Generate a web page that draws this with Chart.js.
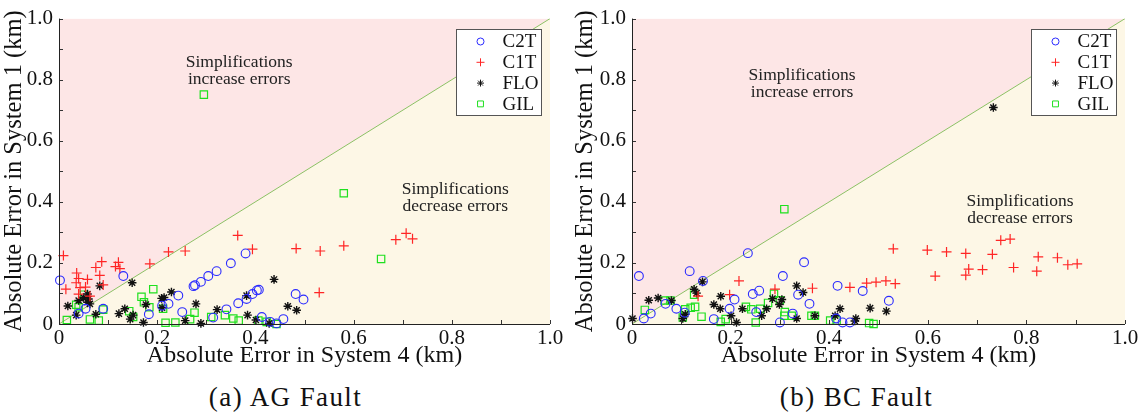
<!DOCTYPE html>
<html>
<head>
<meta charset="utf-8">
<script src="https://cdn.jsdelivr.net/npm/chart.js@4.4.1/dist/chart.umd.min.js"></script>
<style>
  body { margin: 0; background: #fff; width: 1142px; height: 419px; overflow: hidden; }
  .row { display: flex; }
  .panel { position: relative; width: 571px; height: 419px; }
  .panel canvas { position: absolute; left: 0; top: 0; }
  .caption {
    position: absolute; left: 0; top: 382px; width: 100%;
    text-align: center; font: 27px "Liberation Serif", serif; letter-spacing: 1.4px; color: #111;
  }
</style>
</head>
<body>
<div class="row">
  <div class="panel">
    <canvas id="agChart" width="571" height="370"></canvas>
    <div class="caption">(a) AG Fault</div>
  </div>
  <div class="panel">
    <canvas id="bcChart" width="571" height="370"></canvas>
    <div class="caption">(b) BC Fault</div>
  </div>
</div>
<script>
// Series names and axis labels
const seriesNames = ['C2T', 'C1T', 'FLO', 'GIL'];
const tickValues = [0, 0.2, 0.4, 0.6, 0.8, 1.0];
const tickLabels = ['0', '0.2', '0.4', '0.6', '0.8', '1.0'];
const xTitle = 'Absolute Error in System 4 (km)';
const yTitle = 'Absolute Error in System 1 (km)';

// AG fault: [error in system 4, error in system 1]
const agC2T = [[0.002,0.143],[0.04,0.034],[0.054,0.05],[0.09,0.05],[0.131,0.157],[0.183,0.032],[0.21,0.06],[0.223,0.066],[0.243,0.093],[0.251,0.039],[0.274,0.124],[0.277,0.127],[0.289,0.138],[0.304,0.157],[0.321,0.173],[0.35,0.199],[0.38,0.231],[0.314,0.021],[0.341,0.048],[0.365,0.068],[0.382,0.082],[0.394,0.098],[0.403,0.11],[0.407,0.112],[0.413,0.023],[0.43,0.007],[0.443,0.002],[0.457,0.016],[0.482,0.098],[0.498,0.08]];
const agC1T = [[0.009,0.224],[0.014,0.114],[0.036,0.167],[0.04,0.149],[0.035,0.135],[0.043,0.119],[0.04,0.098],[0.054,0.121],[0.058,0.146],[0.063,0.091],[0.075,0.185],[0.083,0.159],[0.087,0.204],[0.09,0.128],[0.115,0.188],[0.121,0.202],[0.124,0.181],[0.185,0.197],[0.223,0.236],[0.257,0.239],[0.364,0.29],[0.394,0.245],[0.483,0.247],[0.532,0.239],[0.58,0.256],[0.53,0.103],[0.686,0.276],[0.707,0.297],[0.72,0.279]];
const agFLO = [[0.018,0.059],[0.035,0.029],[0.04,0.077],[0.05,0.087],[0.058,0.098],[0.06,0.082],[0.058,0.071],[0.063,0.066],[0.083,0.125],[0.075,0.032],[0.122,0.034],[0.134,0.05],[0.145,0.016],[0.149,0.135],[0.151,0.029],[0.172,0.005],[0.177,0.064],[0.209,0.084],[0.214,0.087],[0.21,0.053],[0.229,0.105],[0.257,0.011],[0.279,0.066],[0.289,0.002],[0.322,0.047],[0.382,0.093],[0.384,0.029],[0.401,0.013],[0.428,0.002],[0.438,0.146],[0.466,0.058],[0.484,0.045]];
const agGIL = [[0.016,0.013],[0.035,0.063],[0.04,0.055],[0.051,0.096],[0.063,0.015],[0.081,0.011],[0.09,0.047],[0.143,0.042],[0.151,0.023],[0.168,0.089],[0.173,0.071],[0.184,0.055],[0.192,0.114],[0.212,0.05],[0.217,0.004],[0.237,0.005],[0.267,0.016],[0.276,0.037],[0.295,0.751],[0.31,0.023],[0.338,0.029],[0.355,0.018],[0.366,0.011],[0.406,0.011],[0.423,0.007],[0.443,0.0],[0.58,0.428],[0.656,0.213]];

// BC fault
const bcC2T = [[0.014,0.157],[0.024,0.018],[0.038,0.034],[0.068,0.066],[0.09,0.05],[0.107,0.037],[0.117,0.173],[0.144,0.141],[0.166,0.016],[0.198,0.05],[0.208,0.08],[0.235,0.232],[0.245,0.098],[0.252,0.039],[0.258,0.109],[0.3,0.005],[0.306,0.157],[0.326,0.034],[0.337,0.096],[0.349,0.202],[0.36,0.066],[0.417,0.125],[0.414,0.018],[0.427,0.005],[0.442,0.005],[0.468,0.108],[0.521,0.076]];
const bcC1T = [[0.134,0.091],[0.198,0.096],[0.217,0.141],[0.29,0.114],[0.366,0.117],[0.442,0.12],[0.476,0.134],[0.495,0.137],[0.515,0.141],[0.534,0.132],[0.53,0.246],[0.599,0.242],[0.615,0.157],[0.638,0.236],[0.677,0.231],[0.677,0.16],[0.683,0.18],[0.711,0.178],[0.731,0.228],[0.748,0.274],[0.767,0.278],[0.774,0.185],[0.821,0.173],[0.824,0.22],[0.863,0.217],[0.884,0.194],[0.903,0.197]];
const bcFLO = [[0.001,0.018],[0.034,0.078],[0.053,0.085],[0.08,0.077],[0.103,0.018],[0.108,0.032],[0.126,0.114],[0.131,0.101],[0.143,0.138],[0.166,0.064],[0.18,0.091],[0.179,0.05],[0.201,0.027],[0.212,0.005],[0.224,0.05],[0.263,0.027],[0.273,0.05],[0.285,0.083],[0.299,0.064],[0.304,0.08],[0.334,0.125],[0.334,0.018],[0.347,0.103],[0.371,0.027],[0.412,0.027],[0.422,0.05],[0.454,0.018],[0.452,0.01],[0.483,0.052],[0.516,0.042],[0.733,0.709]];
const bcGIL = [[0.026,0.046],[0.066,0.077],[0.078,0.077],[0.103,0.021],[0.108,0.048],[0.119,0.053],[0.128,0.056],[0.126,0.096],[0.141,0.024],[0.18,0.007],[0.19,0.016],[0.231,0.056],[0.242,0.048],[0.251,0.005],[0.26,0.05],[0.276,0.069],[0.288,0.099],[0.3,0.078],[0.31,0.039],[0.309,0.027],[0.324,0.027],[0.364,0.027],[0.371,0.027],[0.402,0.011],[0.415,0.011],[0.481,0.003],[0.49,0.0],[0.309,0.376]];

// y = x reference line
const diagonal = [[0, 0], [1, 1]];

const serif = '"Liberation Serif", "DejaVu Serif", serif';
const markerStyles = [
  { pointStyle: 'circle', radius: 4.4, color: '#2b2bff', width: 1.1 },
  { pointStyle: 'cross',  radius: 5,   color: '#ff2525', width: 1.2 },
  { pointStyle: 'star',   radius: 4.3, color: '#111111', width: 1.4 },
  { pointStyle: 'rect',   radius: 5.2, color: '#1fe01f', width: 1.2 }
];

const toXY = arr => arr.map(p => ({ x: p[0], y: p[1] }));

// Inward tick marks every 0.1 on both axes, plus the two axis lines
const innerTicks = {
  id: 'innerTicks',
  afterDatasetsDraw(chart) {
    const { ctx, chartArea, scales } = chart;
    ctx.save();
    ctx.strokeStyle = '#333';
    ctx.lineWidth = 1;
    ctx.beginPath();
    for (let i = 0; i <= 10; i++) {
      const v = i / 10;
      const px = Math.round(scales.x.getPixelForValue(v)) + 0.5;
      const py = Math.round(scales.y.getPixelForValue(v)) + 0.5;
      ctx.moveTo(px, chartArea.bottom);
      ctx.lineTo(px, chartArea.bottom - 4);
      ctx.moveTo(chartArea.left, py);
      ctx.lineTo(chartArea.left + 4, py);
    }
    ctx.stroke();
    ctx.strokeStyle = '#222';
    ctx.beginPath();
    ctx.moveTo(chartArea.left + 0.5, chartArea.top);
    ctx.lineTo(chartArea.left + 0.5, chartArea.bottom + 0.5);
    ctx.lineTo(chartArea.right, chartArea.bottom + 0.5);
    ctx.stroke();
    ctx.restore();
  }
};

// Region labels written at data coordinates
const regionNotes = {
  id: 'regionNotes',
  afterDatasetsDraw(chart, args, opts) {
    const { ctx, scales } = chart;
    ctx.save();
    ctx.font = '17.5px ' + serif;
    ctx.fillStyle = '#222';
    ctx.textAlign = 'center';
    ctx.textBaseline = 'middle';
    (opts.notes || []).forEach(n => {
      const x = scales.x.getPixelForValue(n.x);
      const y = scales.y.getPixelForValue(n.y);
      n.lines.forEach((line, i) => ctx.fillText(line, x, y + i * 17));
    });
    ctx.restore();
  }
};

function drawMarker(ctx, style, x, y, r, w) {
  if (Chart.helpers && Chart.helpers.drawPoint) {
    Chart.helpers.drawPoint(ctx, { pointStyle: style, radius: r, borderWidth: w, rotation: 0 }, x, y);
  }
}

// Legend box placed inside the plot, top right
const boxLegend = {
  id: 'boxLegend',
  afterDraw(chart, args, opts) {
    const { ctx, chartArea } = chart;
    const w = 85, h = 86;
    const x0 = Math.round(chartArea.right - opts.right - w) + 0.5;
    const y0 = Math.round(chartArea.top + 10) + 0.5;
    ctx.save();
    ctx.fillStyle = '#fff';
    ctx.fillRect(x0, y0, w, h);
    ctx.strokeStyle = '#555';
    ctx.lineWidth = 1;
    ctx.strokeRect(x0, y0, w, h);
    ctx.font = '19px ' + serif;
    ctx.textBaseline = 'middle';
    seriesNames.forEach((name, i) => {
      const m = markerStyles[i];
      const y = y0 + 12 + i * 20.8;
      ctx.strokeStyle = m.color;
      ctx.lineWidth = 1;
      ctx.fillStyle = 'rgba(0,0,0,0)';
      drawMarker(ctx, m.pointStyle, x0 + 24, y, m.radius * 0.8, 1);
      ctx.fillStyle = '#111';
      ctx.fillText(name, x0 + 46, y + 1);
    });
    ctx.restore();
  }
};

function buildChart(id, series, notes, layout) {
  const markerSets = series.map((pts, i) => ({
    label: seriesNames[i],
    data: toXY(pts),
    pointStyle: markerStyles[i].pointStyle,
    pointRadius: markerStyles[i].radius,
    pointBorderColor: markerStyles[i].color,
    pointBackgroundColor: 'rgba(0,0,0,0)',
    pointBorderWidth: markerStyles[i].width,
    showLine: false,
    clip: false,
    order: 1
  }));

  const regionSets = [
    { data: toXY(diagonal), showLine: true, pointRadius: 0, borderWidth: 0,
      fill: 'end', backgroundColor: '#fde6e6', order: 10 },
    { data: toXY(diagonal), showLine: true, pointRadius: 0, borderWidth: 1,
      borderColor: '#8cc064', fill: 'start', backgroundColor: '#fdf7e6', order: 9 }
  ];

  return new Chart(document.getElementById(id), {
    type: 'scatter',
    data: { datasets: [...markerSets, ...regionSets] },
    options: {
      responsive: false,
      animation: false,
      layout: { padding: { top: 11, right: layout.right, left: 0, bottom: 0 } },
      scales: {
        x: {
          type: 'linear', min: 0, max: 1,
          afterBuildTicks: s => { s.ticks = tickValues.map(v => ({ value: v })); },
          afterFit: s => { s.height = 46; },
          grid: { display: false, drawTicks: false },
          border: { display: false },
          ticks: {
            padding: 2, color: '#111', font: { family: serif, size: 21 },
            callback: v => tickLabels[tickValues.indexOf(v)]
          },
          title: { display: true, text: xTitle, color: '#111',
                   font: { family: serif, size: 24 }, padding: { top: 0, bottom: 0 } }
        },
        y: {
          type: 'linear', min: 0, max: 1,
          afterBuildTicks: s => { s.ticks = tickValues.map(v => ({ value: v })); },
          afterFit: s => { s.width = layout.left; },
          grid: { display: false, drawTicks: false },
          border: { display: false },
          ticks: {
            padding: 6, color: '#111', font: { family: serif, size: 21 },
            callback: v => tickLabels[tickValues.indexOf(v)]
          },
          title: { display: true, text: yTitle, color: '#111',
                   font: { family: serif, size: 24.5 }, padding: { top: 0, bottom: 0 } }
        }
      },
      plugins: {
        legend: { display: false },
        tooltip: { enabled: false },
        regionNotes: { notes },
        boxLegend: { right: 9 }
      }
    },
    plugins: [innerTicks, regionNotes, boxLegend]
  });
}

buildChart('agChart', [agC2T, agC1T, agFLO, agGIL], [
  { x: 0.367, y: 0.855, lines: ['Simplifications', 'increase errors'] },
  { x: 0.807, y: 0.44, lines: ['Simplifications', 'decrease errors'] }
], { left: 59, right: 21 });

buildChart('bcChart', [bcC2T, bcC1T, bcFLO, bcGIL], [
  { x: 0.345, y: 0.815, lines: ['Simplifications', 'increase errors'] },
  { x: 0.787, y: 0.40, lines: ['Simplifications', 'decrease errors'] }
], { left: 61, right: 17 });
</script>
</body>
</html>
